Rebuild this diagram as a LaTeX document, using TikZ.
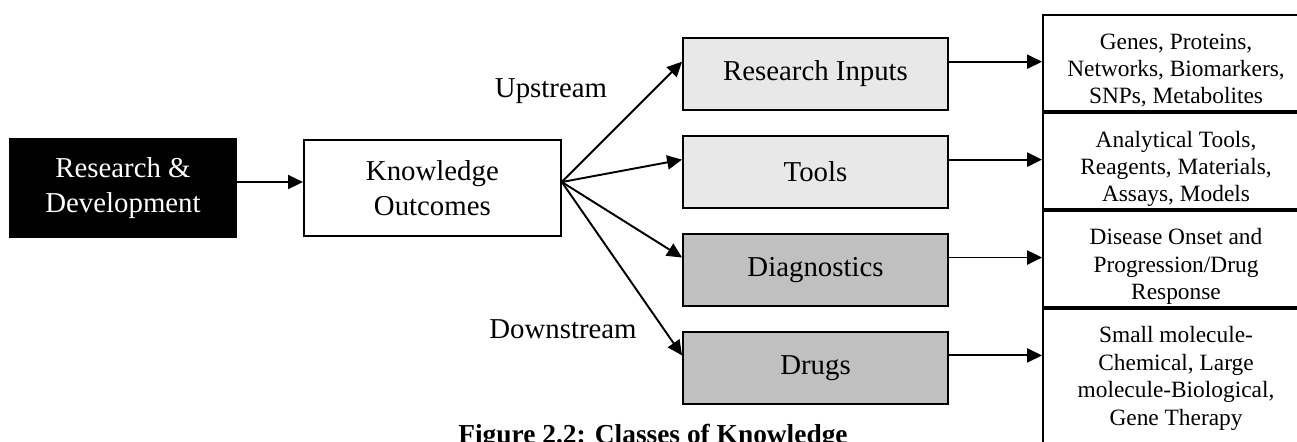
\documentclass[tikz,border=0pt]{standalone}
\usepackage{fontspec}
\setmainfont{Liberation Serif}
\usetikzlibrary{positioning,arrows.meta}
\definecolor{lightbox}{HTML}{E8E8E8}
\definecolor{darkbox}{HTML}{C0C0C0}
\tikzset{box/.style={
        draw,
        rectangle,
        line width=1.1pt,
        align=center,
        inner sep=0pt,
        font=\fontsize{16.4}{19.8}\selectfont } }
\tikzset{midbox/.style={
        box,
        minimum width=5.3cm,
        minimum height=1.44cm } }
\tikzset{listbox/.style={
        box,
        anchor=north,
        minimum width=5.32cm,
        text height=1.78cm,
        text depth=0.14cm,
        font=\fontsize{13.3}{15.6}\selectfont } }

\begin{document}
\begin{tikzpicture}[x=0.02cm,y=-0.02cm,line width=1.1pt,
    >={Triangle[length=8.5pt,width=8pt]}]
\useasboundingbox (0,0) rectangle (1297,442);

\node[box, fill=black, text=white, minimum width=4.52cm, minimum height=1.96cm] (rd)
at (123,188) {Research \&\\Development};

\node[box, minimum width=5.14cm, minimum height=1.92cm] (ko)
[right=1.32cm of rd] {Knowledge\\Outcomes};

% middle column
\node[midbox, fill=lightbox] (ri) at (815.5,74) {Research Inputs};
\node[midbox, fill=lightbox] (to) [below=0.48cm of ri] {Tools};
\node[midbox, fill=darkbox] (dg) [below=0.48cm of to] {Diagnostics};
\node[midbox, fill=darkbox] (dr) [below=0.48cm of dg] {Drugs};

% right column
\node[listbox] (ri_l) at (1176,14)
{Genes, Proteins,\\Networks, Biomarkers,\\SNPs, Metabolites};
\node[listbox] (to_l) [below=0pt of ri_l]
{Analytical Tools,\\Reagents, Materials,\\Assays, Models};
\node[listbox] (dg_l) [below=0pt of to_l]
{Disease Onset and\\Progression/Drug\\Response};
\node[listbox, text height=2.33cm, text depth=0.83cm] (dr_l) [below=0pt of dg_l]
{Small molecule-\\Chemical, Large\\molecule-Biological,\\Gene Therapy};

\node[font=\fontsize{16.4}{19.8}\selectfont, anchor=base] (up) at (551,98) {Upstream};
\node[font=\fontsize{16.4}{19.8}\selectfont, anchor=base] (down) at (563,338) {Downstream};

\node[font=\bfseries\fontsize{15.6}{18}\selectfont, anchor=base] (cap)
at (653,443) {Figure 2.2: Classes of Knowledge};

\coordinate (rd_out) at ([yshift=3.4pt]rd.east);
\coordinate (fan) at ([yshift=3.4pt]ko.east);
\coordinate (ri_in) at ([yshift=7pt]ri.west);
\coordinate (to_in) at ([yshift=7pt]to.west);
\coordinate (dg_in) at ([yshift=7pt]dg.west);
\coordinate (dr_in) at ([yshift=7pt]dr.west);
\coordinate (ri_out) at ([yshift=7pt]ri.east);
\coordinate (to_out) at ([yshift=7pt]to.east);
\coordinate (dg_out) at ([yshift=7pt]dg.east);
\coordinate (dr_out) at ([yshift=7pt]dr.east);

\path[->]
(rd_out) edge (rd_out -| ko.west)
(fan) edge (ri_in)
(fan) edge (to_in)
(fan) edge (dg_in)
(fan) edge (dr_in)
(ri_out) edge (ri_out -| ri_l.west)
(to_out) edge (to_out -| to_l.west)
(dg_out) edge (dg_out -| dg_l.west)
(dr_out) edge (dr_out -| dr_l.west);

\end{tikzpicture}
\end{document}
